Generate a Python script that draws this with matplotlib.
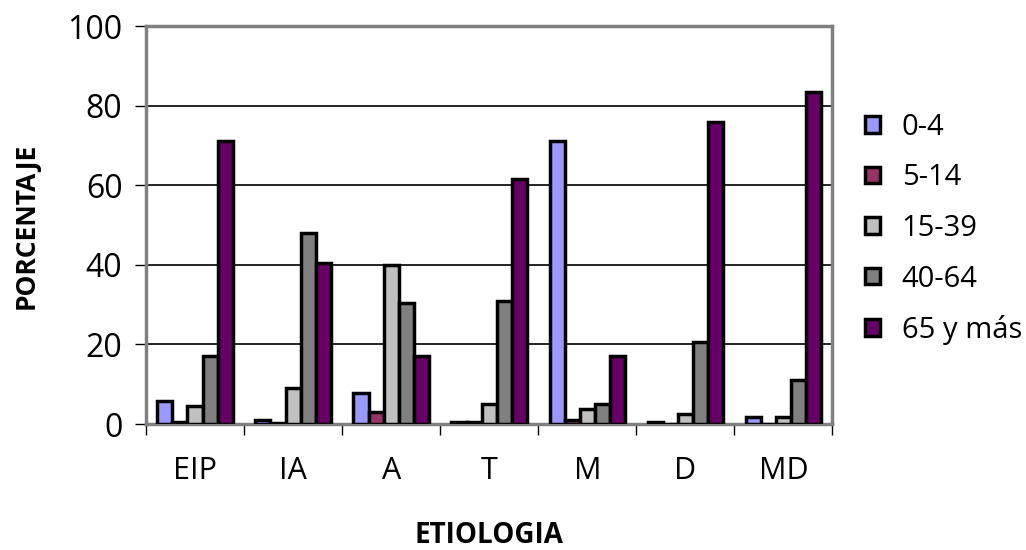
import numpy as np
import matplotlib.pyplot as plt

categorias = ['EIP', 'IA', 'A', 'T', 'M', 'D', 'MD']
grupos = ['0-4', '5-14', '15-39', '40-64', '65 y más']
colores = ['#9999FF', '#993366', '#C0C0C0', '#808080', '#660066']

edad_0_4 = [5.8, 1.0, 7.7, 0.4, 71.0, 0.5, 1.8]
edad_5_14 = [0.4, 0.3, 3.0, 0.4, 1.0, 0.0, 0.0]
edad_15_39 = [4.5, 9.0, 40.0, 5.0, 3.7, 2.5, 1.8]
edad_40_64 = [17.0, 48.0, 30.5, 31.0, 5.0, 20.5, 11.0]
edad_65 = [71.0, 40.5, 17.0, 61.5, 17.0, 76.0, 83.5]
series = [edad_0_4, edad_5_14, edad_15_39, edad_40_64, edad_65]

plt.rcParams['font.family'] = ['Open Sans', 'DejaVu Sans']

fig = plt.figure(figsize=(10.26, 5.5), dpi=100)
ax = fig.add_axes([0.1423, 0.229, 0.669, 0.7237])

x = np.arange(len(categorias))
ancho = 1 / 6.5
for i, (vals, nombre, col) in enumerate(zip(series, grupos, colores)):
    pos = x - 0.5 + 0.75 * ancho + i * ancho + ancho / 2
    ax.bar(pos, vals, width=ancho, color=col, edgecolor='black',
           linewidth=2.5, label=nombre, zorder=3)

ax.set_xlim(-0.5, len(categorias) - 0.5)
ax.set_ylim(0, 100)
ax.set_yticks([0, 20, 40, 60, 80, 100])
ax.yaxis.grid(True, color='black', linewidth=1.2, zorder=0)
ax.tick_params(axis='y', labelsize=23, length=8, width=1, direction='out', pad=9)

ax.set_xticks(np.arange(len(categorias) + 1) - 0.5)
ax.set_xticklabels([])
ax.set_xticks(x, minor=True)
ax.set_xticklabels(categorias, minor=True, fontsize=22)
ax.tick_params(axis='x', which='major', length=8, width=1, direction='out')
ax.tick_params(axis='x', which='minor', length=0, pad=23)

for lado in ['top', 'right', 'left', 'bottom']:
    ax.spines[lado].set_color('#808080')
    ax.spines[lado].set_linewidth(2.5)

fig.text(0.025, 0.59, 'PORCENTAJE', rotation=90, ha='center', va='center',
         fontsize=19, fontweight='bold')
fig.text(0.477, 0.027, 'ETIOLOGIA', ha='center', va='center',
         fontsize=20, fontweight='bold')

ax.legend(loc='upper left', bbox_to_anchor=(1.048, 0.782), frameon=False,
          fontsize=21, handlelength=0.5, handleheight=0.5, handletextpad=0.75,
          labelspacing=0.74, borderaxespad=0, borderpad=0)

fig.savefig('out.png', dpi=100)
